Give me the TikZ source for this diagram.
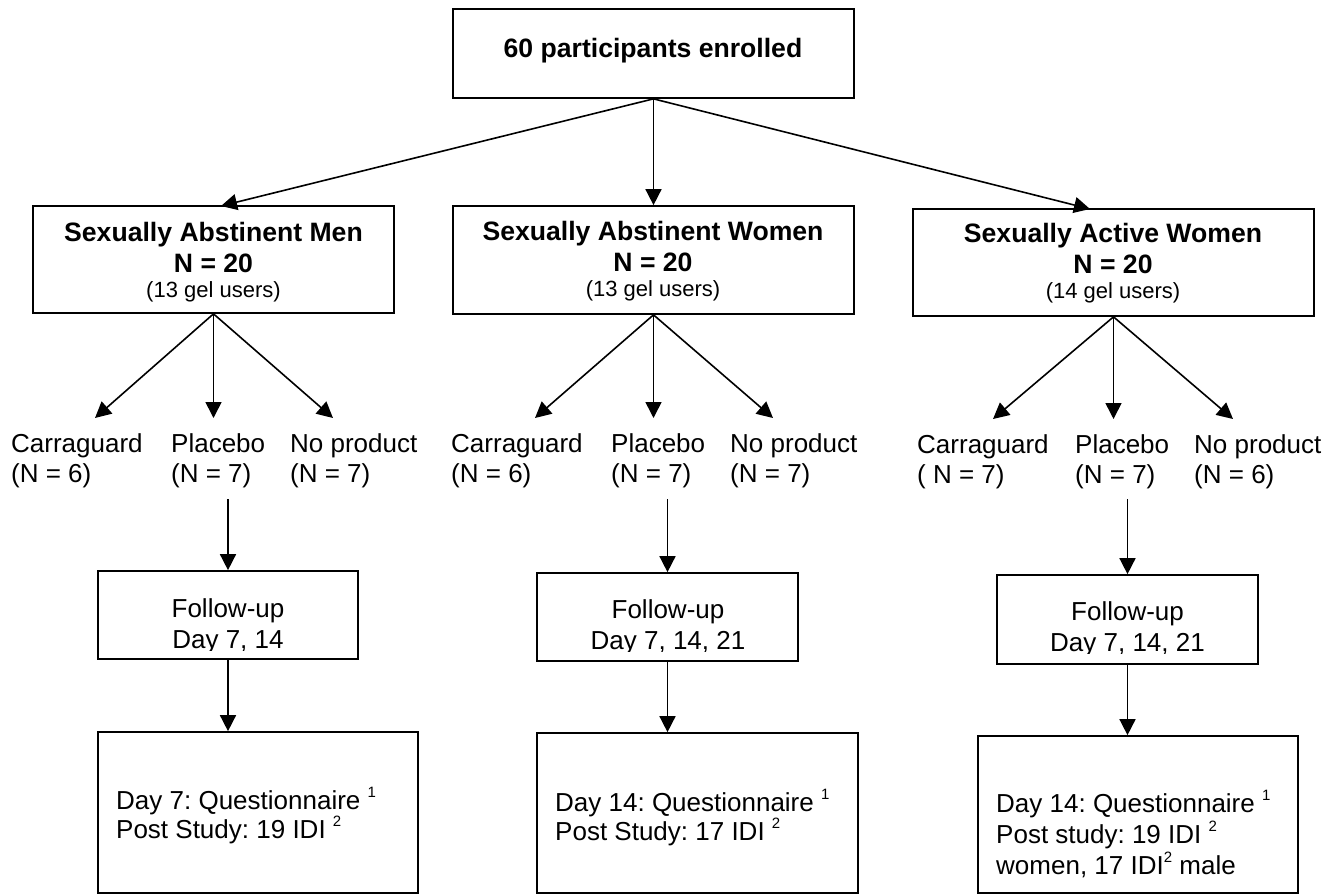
\documentclass[tikz,border=0pt]{standalone}
\usepackage{fontspec}
\setmainfont{Liberation Sans}
\usetikzlibrary{arrows.meta}
\frenchspacing
\newcommand{\myss}[1]{\raisebox{12pt}{\fontsize{15}{15}\selectfont #1}}
\begin{document}
\begin{tikzpicture}[x=1pt,y=-1pt,
  frame/.style n args={2}{draw=black, line width=1.7pt, inner sep=0pt, minimum width=#1, minimum height=#2},
  txt/.style={inner sep=0pt, font=\fontsize{26}{31}\selectfont\frenchspacing},
  ttl/.style={inner sep=0pt, anchor=base, align=center, font=\fontsize{26.6}{31}\selectfont\bfseries},
  lab/.style={inner sep=0pt, anchor=base west, align=left, font=\fontsize{26}{30}\selectfont\frenchspacing},
  arr/.style={line width=1.6pt, -{Triangle[length=16pt,width=16pt]}}
]
\useasboundingbox (0,0) rectangle (1338,894);

% boxes
\node[frame={401pt}{89pt}] (top) at (653.5,53.5) {};
\node[frame={361pt}{107pt}] (men) at (213.5,259.5) {};
\node[frame={401pt}{108pt}] (wom) at (653.5,260) {};
\node[frame={401pt}{107pt}] (act) at (1113.5,262.5) {};
\node[frame={260pt}{88pt}] (mfu) at (228,615) {};
\node[frame={261pt}{88pt}] (wfu) at (667.5,617) {};
\node[frame={261pt}{89pt}] (afu) at (1127.5,619.5) {};
\node[frame={320pt}{161pt}] (mbot) at (258,812.5) {};
\node[frame={321pt}{160pt}] (wbot) at (697.5,813) {};
\node[frame={320pt}{157pt}] (abot) at (1138,814.5) {};

% box texts (base anchor = baseline of last line)
\node[ttl] (ttop) at (653,57) {60 participants enrolled};
\node[ttl] (tmen) at (213.5,297) {Sexually Abstinent Men\\N = 20\\[-6pt]{\mdseries\fontsize{22}{26}\selectfont (13 gel users)}};
\node[ttl] (twom) at (653,296) {Sexually Abstinent Women\\N = 20\\[-6pt]{\mdseries\fontsize{22}{26}\selectfont (13 gel users)}};
\node[ttl] (tact) at (1113,298) {Sexually Active Women\\N = 20\\[-6pt]{\mdseries\fontsize{22}{26}\selectfont (14 gel users)}};

\begin{scope}
\clip (98,560) rectangle (358,650);
\node[txt, anchor=base, align=center] (tmfu) at (228,648) {Follow-up\\Day 7, 14};
\end{scope}
\begin{scope}
\clip (537,560) rectangle (798,651);
\node[txt, anchor=base, align=center] (twfu) at (668,649) {Follow-up\\Day 7, 14, 21};
\end{scope}
\begin{scope}
\clip (997,560) rectangle (1258,653);
\node[txt, anchor=base, align=center] (tafu) at (1127.5,651) {Follow-up\\Day 7, 14, 21};
\end{scope}

\node[lab, font=\fontsize{26}{29}\selectfont\frenchspacing] (tmbot) at (116,838) {Day 7: Questionnaire \myss{1}\\Post Study: 19 IDI \myss{2}};
\node[lab, font=\fontsize{26}{29}\selectfont\frenchspacing] (twbot) at (555,840) {Day 14: Questionnaire \myss{1}\\Post Study: 17 IDI \myss{2}};
\node[lab, font=\fontsize{26}{31}\selectfont\frenchspacing] (tabot) at (996,874) {Day 14: Questionnaire \myss{1}\\Post study: 19 IDI \myss{2}\\women, 17 IDI\myss{2} male};

% arm labels
\node[lab] (mc) at (11,482) {Carraguard\\(N = 6)};
\node[lab] (mp) at (171,482) {Placebo\\(N = 7)};
\node[lab] (mn) at (290,482) {No product\\(N = 7)};
\node[lab] (wc) at (451,482) {Carraguard\\(N = 6)};
\node[lab] (wp) at (611,482) {Placebo\\(N = 7)};
\node[lab] (wn) at (730,482) {No product\\(N = 7)};
\node[lab] (ac) at (917,483) {Carraguard\\( N = 7)};
\node[lab] (ap) at (1075,483) {Placebo\\(N = 7)};
\node[lab] (an) at (1194,483) {No product\\(N = 6)};

% arrow end coordinates
\coordinate (tm) at (221,206);
\coordinate (ta) at (1090,209);
\coordinate (mc1) at (95,418);
\coordinate (mp1) at (213.5,418);
\coordinate (mn1) at (333,418);
\coordinate (wc1) at (535,418);
\coordinate (wp1) at (653.5,418);
\coordinate (wn1) at (773,418);
\coordinate (ac1) at (993,419);
\coordinate (ap1) at (1113.5,419);
\coordinate (an1) at (1233,419);
\coordinate (mps) at (228,499);
\coordinate (wps) at (667.5,499);
\coordinate (aps) at (1127.5,499);

% connectors
\draw[arr] (top.south) -- (tm);
\draw[arr] (top.south) -- (wom.north);
\draw[arr] (top.south) -- (ta);

\draw[arr] (men.south) -- (mc1);
\draw[arr] (men.south) -- (mp1);
\draw[arr] (men.south) -- (mn1);
\draw[arr] (wom.south) -- (wc1);
\draw[arr] (wom.south) -- (wp1);
\draw[arr] (wom.south) -- (wn1);
\draw[arr] (act.south) -- (ac1);
\draw[arr] (act.south) -- (ap1);
\draw[arr] (act.south) -- (an1);

\draw[arr] (mps) -- (mfu.north);
\draw[arr] (wps) -- (wfu.north);
\draw[arr] (aps) -- (afu.north);

\draw[arr] (mfu.south) -- (mfu.south |- mbot.north);
\draw[arr] (wfu.south) -- (wfu.south |- wbot.north);
\draw[arr] (afu.south) -- (afu.south |- abot.north);
\end{tikzpicture}
\end{document}
